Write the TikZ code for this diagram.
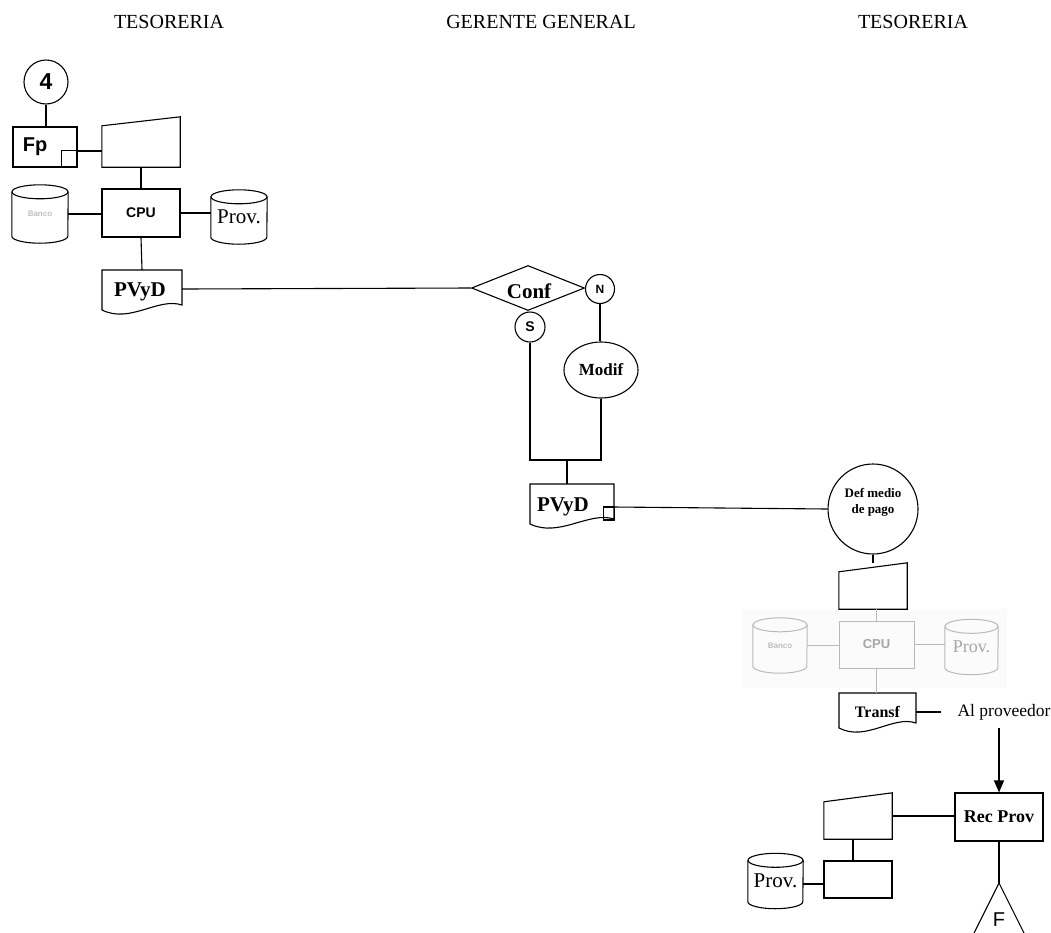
\documentclass[tikz,border=0pt]{standalone}
\usepackage{fontspec}
\setmainfont{Liberation Serif}
\setsansfont{Liberation Sans}
\usetikzlibrary{shapes.geometric,arrows.meta}
\newcommand{\cylout}[3]{%
  \draw[#3] ([yshift=-7pt]#1.north west) -- ([yshift=7pt]#1.south west)
    arc[start angle=180, end angle=360, x radius=#2, y radius=7pt] -- ([yshift=-7pt]#1.north east);
  \draw[#3] ([yshift=-7pt]#1.north) ellipse[x radius=#2, y radius=7pt];}
\newcommand{\docout}[6]{%
  \pgfmathsetmacro\docXa{#4-0.3*(#4-#2)}%
  \pgfmathsetmacro\docXb{#2+0.35*(#4-#2)}%
  \draw[#1] (#2,#3) -- (#4,#3) -- (#4,#6) .. controls (\docXa,#6-8) and (\docXb,#5+14) .. (#2,#5) -- cycle;}
\newcommand{\trapout}[2]{%
  \draw[#2] ([yshift=-9pt]#1.north west) -- (#1.north east) -- (#1.south east) -- (#1.south west) -- cycle;}
\begin{document}
\begin{tikzpicture}[x=1pt,y=-1pt,
  every node/.style={inner sep=0pt},
  ln/.style={line width=1.1pt, draw=black},
  gln/.style={line width=1pt, draw=gray!55},
  box/.style={rectangle, ln},
  gbox/.style={rectangle, gln},
  ghost/.style={rectangle},
  circ/.style={circle, ln},
  hdr/.style={font=\fontsize{20}{24}\selectfont},
  serb/.style={font=\fontsize{#1}{#1}\selectfont\bfseries},
  sanb/.style={font=\fontsize{#1}{#1}\selectfont\sffamily\bfseries},
  ser/.style={font=\fontsize{#1}{#1}\selectfont},
  tiny/.style={font=\fontsize{8}{8}\selectfont\sffamily\bfseries, text=gray!50},
  arr/.style={ln, -{Triangle[length=12pt,width=10pt]}}
]
\useasboundingbox (0,0) rectangle (1051,932);
\fill[gray!3] (742,609) rectangle (1007,688);

% headers
\node[hdr] (h1) at (169,22) {TESORERIA};
\node[hdr] (h2) at (541,22) {GERENTE GENERAL};
\node[hdr] (h3) at (913,22) {TESORERIA};

% ---------- top left ----------
\node[circ, minimum size=44pt, sanb=23] (c4) at (46,82) {4};
\node[box, minimum width=64pt, minimum height=40pt] (fp) at (45,147) {};
\node[sanb=20] (fpt) at (35,147) {Fp};
\draw[ln] (fp.south east) rectangle ++(-16,-17);
\draw[ln] (c4.south) -- (c4.south |- fp.north);

\node[ghost, minimum width=78pt, minimum height=50pt] (tr1) at (141,142) {};
\trapout{tr1}{ln}
\draw[ln] ([yshift=-4pt]fp.east) -- ([yshift=-4pt]fp.east -| tr1.west);

\node[box, minimum width=78pt, minimum height=48pt, sanb=14] (cpu1) at (141,213) {CPU};
\draw[ln] (tr1.south) -- (cpu1.north);

\node[ghost, minimum width=56pt, minimum height=58pt, tiny] (db1) at (40,214) {Banco};
\cylout{db1}{28pt}{ln}
\draw[ln] (db1.east) -- (db1.east -| cpu1.west);

\node[ghost, minimum width=56pt, minimum height=54pt, ser=21] (db2) at (239,217) {Prov.};
\cylout{db2}{28pt}{ln}
\draw[ln] (cpu1.east) -- (cpu1.east -| db2.west);

\node[ghost, minimum width=80pt, minimum height=38pt] (pv1) at (142,289) {};
\docout{ln}{102}{270}{182}{310}{305}
\node[serb=21] (pv1t) at (140,292) {PVyD};
\draw[ln] (cpu1.south) -- (pv1.north);

% ---------- gerente ----------
\node[diamond, ln, aspect=2.5, minimum width=113pt, minimum height=45pt] (conf) at (528,288) {};
\node[serb=21] (conft) at (529,291) {Conf};
\draw[ln] (pv1.east) -- (conf.west);
\node[circ, minimum size=29pt, sanb=12] (nn) at (600,289) {N};
\node[circ, minimum size=30pt, sanb=14] (ss) at (530,327) {S};
\node[ellipse, ln, minimum width=74pt, minimum height=56pt, serb=17] (modif) at (601,370) {Modif};
\draw[ln] (nn.south) -- (nn.south |- modif.north);
\coordinate (j1) at (567,460);
\draw[ln] (ss.south) |- (j1) -| (modif.south);

\node[ghost, minimum width=84pt, minimum height=38pt] (pv2) at (572,503) {};
\docout{ln}{530}{484}{614}{524}{519}
\node[serb=21] (pv2t) at (563,507) {PVyD};
\draw[ln] ([yshift=-4pt]pv2.east) rectangle ++(-11,13);
\draw[ln] (j1) -- (j1 |- pv2.north);

% ---------- right ----------
\node[circ, minimum size=90pt] (defm) at (873,509) {};
\node[serb=13, align=center] (defmt) at (873,502) {Def medio\\[3pt]de pago};
\draw[ln] ([yshift=-4pt]pv2.east) -- (defm.west);

\node[ghost, minimum width=68pt, minimum height=46pt] (tr2) at (873,586) {};
\trapout{tr2}{ln}
\draw[ln] (defm.south) -- (tr2.north);

\node[gbox, minimum width=75pt, minimum height=47pt, sanb=13, text=gray!70] (cpu2) at (876.5,644.5) {CPU};
\draw[gln] (cpu2.north |- tr2.south) -- (cpu2.north);

\node[ghost, minimum width=54pt, minimum height=55pt, tiny] (db3) at (780,645.5) {Banco};
\cylout{db3}{27pt}{gln}
\draw[gln] (db3.east) -- (db3.east -| cpu2.west);

\node[ghost, minimum width=53pt, minimum height=55pt, ser=18, text=gray!70] (db4) at (971.5,647) {Prov.};
\cylout{db4}{26.5pt}{gln}
\draw[gln] (cpu2.east) -- (cpu2.east -| db4.west);

\node[ghost, minimum width=77pt, minimum height=38pt, serb=16] (tf) at (877.5,712) {Transf};
\docout{ln}{839}{693}{916}{728}{723}
\draw[gln] (cpu2.south) -- (cpu2.south |- tf.north);

\node[ser=17.5] (alp) at (1004,712) {Al proveedor};
\draw[ln] (tf.east) -- ([xshift=-16pt]alp.west);

\node[box, minimum width=88pt, minimum height=48pt, serb=18] (rec) at (999,817) {Rec Prov};
\draw[arr] ([yshift=-8pt]alp.south -| rec.north) -- (rec.north);

\coordinate (tria) at (999,883);
\draw[ln] (tria) -- ++(26.5,53) -- ++(-53,0) -- cycle;
\node[font=\fontsize{20}{20}\selectfont\sffamily] (ft) at (999,920) {F};
\draw[ln] (rec.south) -- (tria);

\node[ghost, minimum width=68pt, minimum height=46pt] (tr3) at (858,816) {};
\trapout{tr3}{ln}
\draw[ln] (tr3.east) -- (tr3.east -| rec.west);

\node[box, minimum width=68pt, minimum height=37pt] (bx3) at (858,879.5) {};
\draw[ln] ([xshift=-5pt]tr3.south) -- ([xshift=-5pt]bx3.north);

\node[ghost, minimum width=55pt, minimum height=55pt, ser=21] (db5) at (775.5,881) {Prov.};
\cylout{db5}{27.5pt}{ln}
\draw[ln] ([yshift=-3pt]db5.east) -- ([yshift=-3pt]db5.east -| bx3.west);
\end{tikzpicture}
\end{document}
